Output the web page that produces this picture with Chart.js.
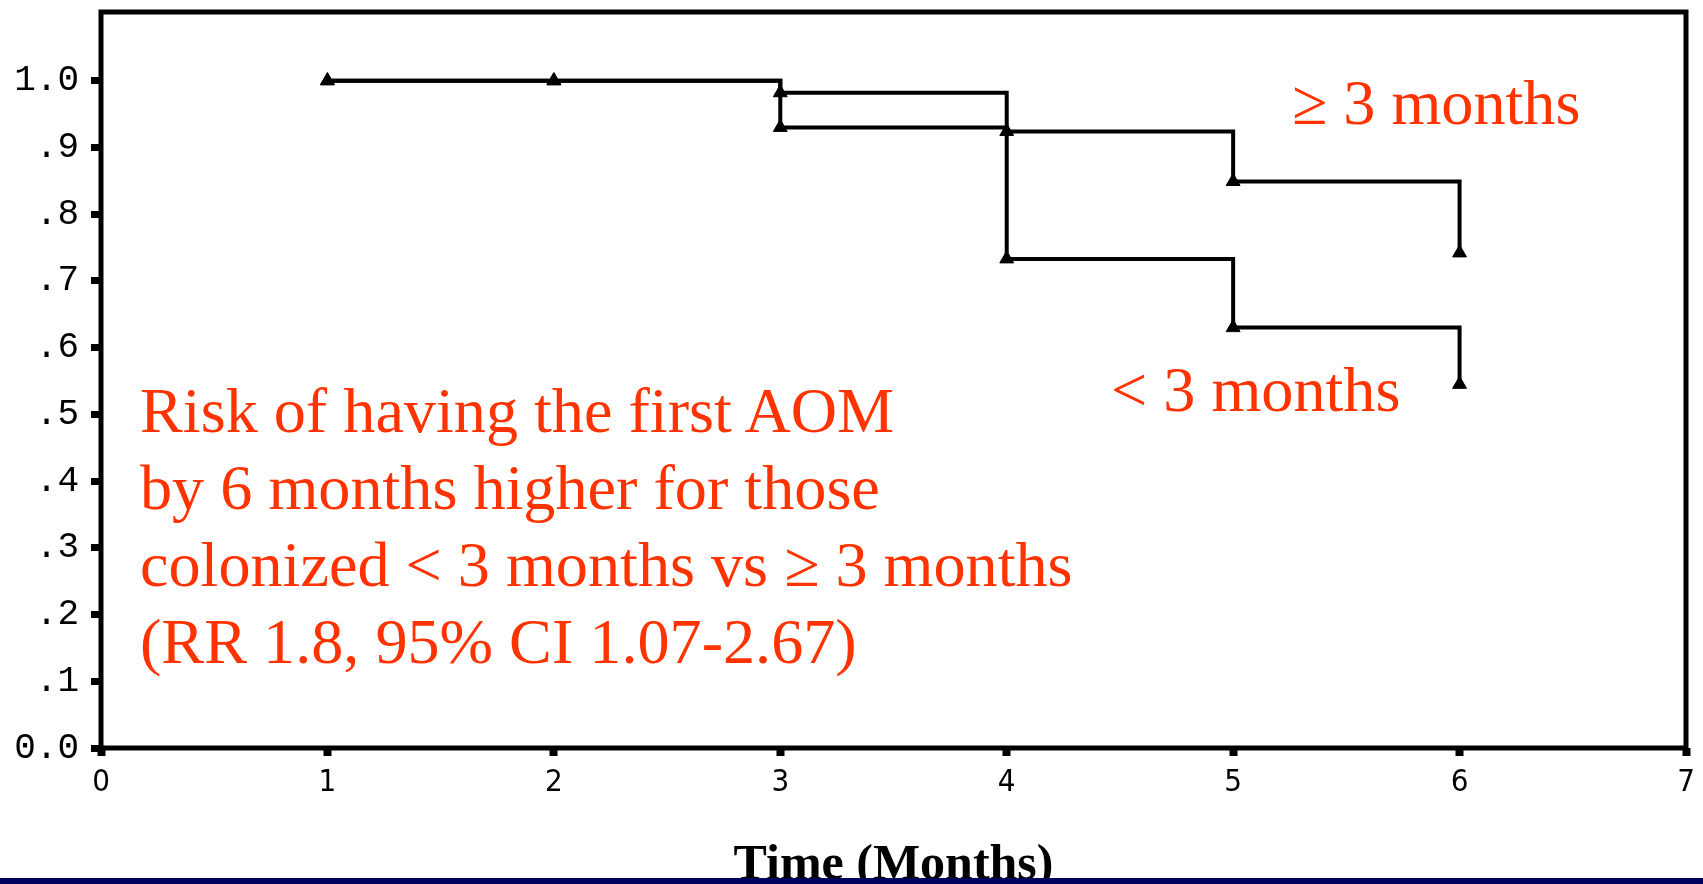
<!DOCTYPE html>
<html>
<head>
<meta charset="utf-8">
<script src="https://cdn.jsdelivr.net/npm/chart.js@4"></script>
<style>
  body { margin: 0; background: #fff; }
  #wrap { position: relative; width: 1703px; height: 884px; overflow: hidden; }
  #kmChart { display: block; }
  .note {
    position: absolute;
    color: #ff3300;
    font-family: "Liberation Serif", "Times New Roman", serif;
    font-size: 64.2px;
    line-height: 77px;
    white-space: nowrap;
  }
  #bar { position: absolute; left: 0; bottom: 0; width: 1703px; height: 6px; background: #00005f; }
</style>
</head>
<body>
<div id="wrap">
  <canvas id="kmChart" width="1703" height="884"></canvas>
  <div class="note" style="left:140px; top:372px">Risk of having the first AOM<br>by 6 months higher for those<br>colonized &lt; 3 months vs ≥ 3 months<br>(RR 1.8, 95% CI 1.07-2.67)</div>
  <div class="note" style="left:1292px; top:64px">≥ 3 months</div>
  <div class="note" style="left:1111px; top:351px">&lt; 3 months</div>
  <div id="bar"></div>
</div>
<script>
// proportion still free of AOM
const months = [1, 2, 3, 4, 5, 6];
const freeGe3 = [1.0, 1.0, 0.982, 0.924, 0.849, 0.742];
const freeLt3 = [1.0, 1.0, 0.930, 0.733, 0.630, 0.545];

const xTickLabels = ['0', '1', '2', '3', '4', '5', '6', '7'];
const yTickLabels = ['0.0', '.1', '.2', '.3', '.4', '.5', '.6', '.7', '.8', '.9', '1.0'];

function toPoints(ys) {
  return months.map((m, i) => ({ x: m, y: ys[i] }));
}

function curve(label, ys) {
  return {
    label: label,
    data: toPoints(ys),
    stepped: 'before',
    borderColor: '#000',
    backgroundColor: '#000',
    borderWidth: 4,
    pointStyle: 'triangle',
    pointRadius: 8,
    pointBorderWidth: 1,
    fill: false
  };
}

// box round the plot area, like the original figure
const framePlugin = {
  id: 'frame',
  afterDraw(chart) {
    const a = chart.chartArea;
    const ctx = chart.ctx;
    ctx.save();
    ctx.strokeStyle = '#000';
    ctx.lineWidth = 5;
    ctx.strokeRect(a.left, a.top, a.right - a.left, a.bottom - a.top);
    ctx.restore();
  }
};

const ctx = document.getElementById('kmChart').getContext('2d');
new Chart(ctx, {
  type: 'line',
  data: {
    datasets: [
      curve('≥ 3 months', freeGe3),
      curve('< 3 months', freeLt3)
    ]
  },
  options: {
    responsive: false,
    animation: false,
    layout: { padding: { top: 12, right: 17, left: 0, bottom: 0 } },
    plugins: {
      legend: { display: false },
      tooltip: { enabled: false }
    },
    scales: {
      x: {
        type: 'linear',
        min: 0,
        max: 7,
        afterFit(scale) {
          scale.height = 136;
          scale.paddingLeft = 0;
          scale.paddingRight = 0;
        },
        border: { display: false },
        grid: {
          drawOnChartArea: false,
          color: '#000',
          tickColor: '#000',
          tickLength: 8,
          tickWidth: 8
        },
        ticks: {
          stepSize: 1,
          maxRotation: 0,
          autoSkip: false,
          padding: 8,
          color: '#000',
          font: { family: 'DejaVu Sans Condensed', size: 31 },
          callback: (v, i) => xTickLabels[i]
        },
        title: {
          display: true,
          text: 'Time (Months)',
          color: '#000',
          padding: { top: 0, bottom: 0 },
          font: { family: 'Liberation Serif', size: 50, weight: 'bold', lineHeight: 0.7 }
        }
      },
      y: {
        min: 0,
        max: 1.103,
        afterFit(scale) {
          scale.width = 101;
          scale.paddingTop = 0;
          scale.paddingBottom = 0;
        },
        afterBuildTicks(scale) {
          scale.ticks = scale.ticks.filter(t => t.value <= 1.0001);
        },
        border: { display: false },
        grid: {
          drawOnChartArea: false,
          color: '#000',
          tickColor: '#000',
          tickLength: 10,
          tickWidth: 7
        },
        ticks: {
          stepSize: 0.1,
          padding: 12,
          color: '#000',
          font: { family: 'Liberation Mono', size: 36 },
          callback: (v, i) => yTickLabels[i]
        }
      }
    }
  },
  plugins: [framePlugin]
});
</script>
</body>
</html>
